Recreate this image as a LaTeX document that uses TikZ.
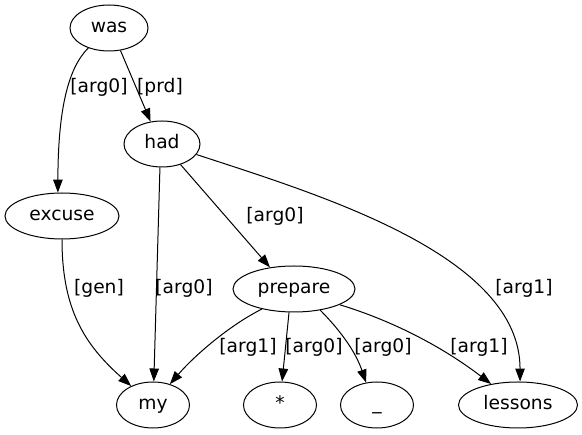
\documentclass[tikz,border=0pt]{standalone}
\usepackage{fontspec}
\setmainfont{DejaVu Sans}
\usetikzlibrary{shapes.geometric,arrows.meta}
\tikzset{
  nd/.style={draw, ellipse, line width=1pt, minimum height=46pt, inner sep=0pt, text height=14pt, text depth=4pt, font=\fontsize{18.67}{22}\selectfont},
  edge/.style={draw, line width=1pt, -{Triangle[length=13pt,width=9.5pt]}},
  lbl/.style={font=\fontsize{18.67}{22}\selectfont, inner sep=0pt}
}
\begin{document}
\begin{tikzpicture}[x=1pt,y=-1pt]
\useasboundingbox (0,0) rectangle (582,435);
\node[nd, minimum width=78pt] (was) at (109,28) {was};
\node[nd, minimum width=76pt] (had) at (162,144) {had};
\node[nd, minimum width=114pt] (excuse) at (62,216) {excuse};
\node[nd, minimum width=122pt] (prepare) at (294,289) {prepare};
\node[nd, minimum width=73pt] (my) at (153,405) {my};
\node[nd, minimum width=73pt] (star) at (280,405) {*};
\node[nd, minimum width=73pt] (under) at (377,405) {\char`\_};
\node[nd, minimum width=119pt] (lessons) at (518,405) {lessons};

\draw[edge] (was.224) .. controls (68,68) and (58,110) .. (excuse.100);
\draw[edge] (was.297) -- (had.117);
\draw[edge] (had.265) -- (my.88);
\draw[edge] (had.312) -- (prepare.138);
\draw[edge] (had.343) .. controls (320,195) and (520,255) .. (lessons.85);
\draw[edge] (excuse.270) .. controls (62,310) and (85,345) .. (my.139);
\draw[edge] (prepare.212) .. controls (230,325) and (195,355) .. (my.51);
\draw[edge] (prepare.258) -- (star.85);
\draw[edge] (prepare.321) .. controls (338,328) and (355,350) .. (under.116);
\draw[edge] (prepare.341) .. controls (390,320) and (440,345) .. (lessons.142);

\node[lbl] (l1) at (99,87) {[arg0]};
\node[lbl] (l2) at (160,87) {[prd]};
\node[lbl] (l3) at (184,288) {[arg0]};
\node[lbl] (l4) at (99,288) {[gen]};
\node[lbl] (l5) at (275,216) {[arg0]};
\node[lbl] (l6) at (524,288) {[arg1]};
\node[lbl] (l7) at (248,347) {[arg1]};
\node[lbl] (l8) at (314,347) {[arg0]};
\node[lbl] (l9) at (383,347) {[arg0]};
\node[lbl] (l10) at (479,347) {[arg1]};
\end{tikzpicture}
\end{document}
